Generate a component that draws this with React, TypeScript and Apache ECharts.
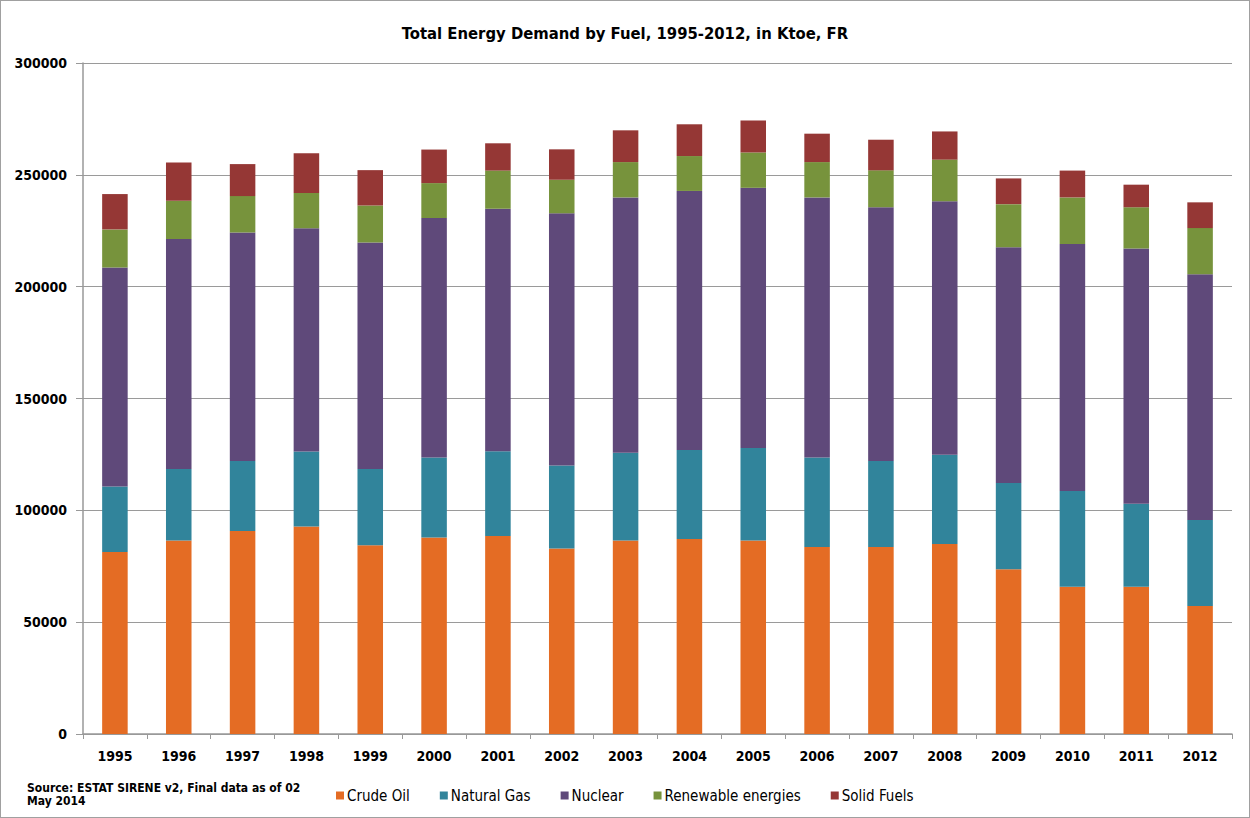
import React, { useEffect, useRef } from "react";
import * as echarts from "echarts";

const years = ["1995","1996","1997","1998","1999","2000","2001","2002","2003","2004","2005","2006","2007","2008","2009","2010","2011","2012"];
const crudeOil = [81400,86500,90800,92800,84400,87900,88500,82900,86500,87200,86500,83600,83600,85000,73700,65800,65800,57200];
const naturalGas = [29300,32000,31300,33500,34100,35700,37900,37100,39200,39800,41400,40000,38500,39900,38500,42800,37100,38500];
const nuclear = [97900,102800,102100,99800,101300,107100,108400,112800,114200,115800,116300,116300,113400,113300,105400,110500,114200,109900];
const renewable = [17000,17100,16300,15800,16500,15600,17100,15000,15800,15600,15800,15800,16500,18600,19300,20800,18400,20600];
const solidFuels = [15800,17100,14300,17800,15800,15000,12200,13600,14200,14200,14300,12700,13700,12600,11500,12000,10100,11500];

const seriesNames = ["Crude Oil", "Natural Gas", "Nuclear", "Renewable energies", "Solid Fuels"];
const seriesColors = ["#E46C24", "#31849B", "#5F497A", "#77933C", "#953735"];
const seriesData = [crudeOil, naturalGas, nuclear, renewable, solidFuels];

const FONT = "'Liberation Sans Narrow', 'DejaVu Sans Condensed', 'Liberation Sans', sans-serif";

export default function App() {
  const ref = useRef<HTMLDivElement>(null);
  useEffect(() => {
    if (!ref.current) return;
    const chart = echarts.init(ref.current, undefined, { renderer: "svg" });
    chart.setOption({
      animation: false,
      backgroundColor: "#ffffff",
      title: {
        text: "Total Energy Demand by Fuel, 1995-2012, in Ktoe, FR",
        left: "center",
        top: 19,
        textStyle: { fontFamily: FONT, fontSize: 16.5, fontWeight: "bold", color: "#000" },
      },
      grid: { left: 82, right: 17, top: 62, bottom: 83, containLabel: false },
      legend: {
        left: 330,
        top: 782,
        itemWidth: 8,
        itemHeight: 8,
        itemGap: 30,
        icon: "rect",
        textStyle: { fontFamily: FONT, fontSize: 15, color: "#000", padding: [0, 0, 0, -2] },
        data: seriesNames,
      },
      xAxis: {
        type: "category",
        data: years,
        axisLine: { lineStyle: { color: "#999", width: 1.5 } },
        axisTick: { show: true, length: 5, lineStyle: { color: "#999" } },
        axisLabel: { fontFamily: FONT, fontSize: 14, fontWeight: "bold", color: "#000", margin: 15 },
      },
      yAxis: {
        type: "value",
        min: 0,
        max: 300000,
        interval: 50000,
        axisLine: { show: true, lineStyle: { color: "#999", width: 1.5 } },
        axisTick: { show: true, length: 7, lineStyle: { color: "#999" } },
        splitLine: { lineStyle: { color: "#9a9a9a", width: 1.2 } },
        axisLabel: {
          fontFamily: FONT,
          fontSize: 14,
          fontWeight: "bold",
          color: "#000",
          margin: 16,
          formatter: (v: number) => String(v),
        },
      },
      graphic: [
        {
          type: "text",
          left: 26,
          top: 780,
          style: {
            text: "Source: ESTAT SIRENE v2, Final data as of 02\nMay 2014",
            fontFamily: FONT,
            fontSize: 12,
            fontWeight: "bold",
            fill: "#000",
            lineHeight: 13,
          },
        },
      ],
      series: seriesNames.map((name, i) => ({
        name,
        type: "bar",
        stack: "total",
        barWidth: "40%",
        data: seriesData[i],
        itemStyle: { color: seriesColors[i] },
      })),
    });
    return () => chart.dispose();
  }, []);
  return (
    <div
      style={{
        position: "fixed",
        left: 0,
        top: 0,
        width: 1250,
        height: 818,
        boxSizing: "border-box",
        border: "1px solid #a0a0a0",
        background: "#fff",
      }}
    >
      <div ref={ref} style={{ width: 1248, height: 816 }} />
    </div>
  );
}
